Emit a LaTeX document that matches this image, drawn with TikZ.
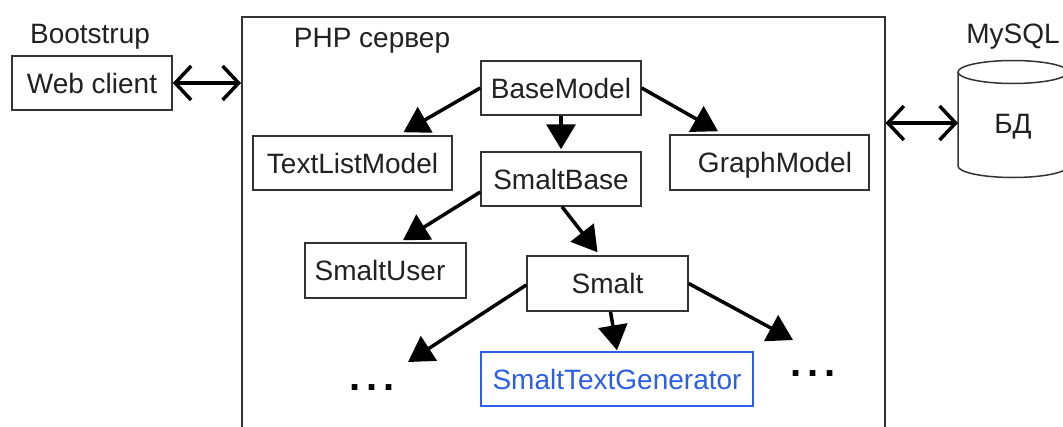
\documentclass[tikz,border=0pt]{standalone}
\usepackage{fontspec}
\setmainfont{Liberation Sans}
\usetikzlibrary{arrows.meta,calc}
\definecolor{txt}{HTML}{212121}
\definecolor{bord}{HTML}{333333}
\definecolor{stgblue}{RGB}{45,95,230}
\begin{document}
\begin{tikzpicture}[x=1pt,y=-1pt,
  font=\fontsize{28}{32}\selectfont, text=txt,
  lbl/.style={inner sep=0pt, text height=20pt, text depth=0pt},
  box/.style={draw=bord, line width=1.5pt, fill=white, inner sep=0pt,
              text height=20pt, text depth=0pt},
  arr/.style={line width=3.5pt, draw=black, -{Triangle[length=25pt,width=29pt]}},
  dbl/.style={line width=3.5pt, draw=black,
              {Straight Barb[length=16pt,width=34pt]}-{Straight Barb[length=16pt,width=34pt]}},
  dots/.style={inner sep=0pt, font=\fontsize{40}{42}\selectfont\bfseries, text=black}
]
\useasboundingbox (0,0) rectangle (1063,426);
\clip (0,0) rectangle (1063,426);

% server container
\node[draw=bord, line width=1.5pt, minimum width=643pt, minimum height=444pt,
      anchor=north west, inner sep=0pt] (server) at (241,16) {};
\node[lbl] (php) at (372,37) {PHP сервер};

% client side
\node[lbl] (boot) at (90,33) {Bootstrup};
\node[box, minimum width=160pt, minimum height=54pt] (web) at (92,83) {Web client};

% database
\node[lbl] (mysql) at (1013,33) {MySQL};
\draw[draw=bord, line width=1.5pt, fill=white]
  (958,72) -- (958,166) arc[start angle=180, end angle=0, x radius=55, y radius=11.5]
  -- (1068,72);
\draw[draw=bord, line width=1.5pt] (1013,72) ellipse[x radius=55, y radius=11.5];
\node[lbl] (db) at (1013,123) {БД};

% class boxes
\node[box, minimum width=160pt, minimum height=54pt] (base) at (561,88) {BaseModel};
\node[box, minimum width=160pt, minimum height=54pt] (sbase) at (561,179) {SmaltBase};
\node[box, minimum width=199pt, minimum height=54pt] (tl) at (352.5,163) {TextListModel};
\node[box, minimum width=199pt, minimum height=55pt] (graph) at (769.5,162.5) {\hspace*{11pt}GraphModel};
\node[box, minimum width=161pt, minimum height=55pt] (su) at (385.5,270.5) {SmaltUser\hspace*{11pt}};
\node[box, minimum width=161pt, minimum height=55pt] (smalt) at (607.5,283.5) {Smalt};
\node[box, draw=stgblue, text=stgblue, minimum width=272pt, minimum height=54pt] (stg) at (617,379) {SmaltTextGenerator};

\node[dots, anchor=base] (ldots) at (372,390) {.\kern6pt.\kern6pt.};
\node[dots, anchor=base] (rdots) at (813,376) {.\kern6pt.\kern6pt.};

% double arrows
\draw[dbl] (web.east) -- (web.east -| server.west);
\draw[dbl] (server.east |- db.center) -- ($(db.center)+(-55,0)$);

% inheritance arrows
\draw[arr] (base.west) -- ($(tl.north)+(51,-3)$);
\draw[arr] (base.south) -- ($(sbase.north)+(0,-2)$);
\draw[arr] (base.east) -- ($(graph.north)+(-51.5,-3)$);
\draw[arr] ($(sbase.west)+(0,13)$) -- ($(su.north)+(17.5,-2)$);
\draw[arr] ($(sbase.south)+(1,0)$) -- ($(smalt.north)+(-10,-3)$);
\draw[arr] ($(smalt.west)+(0,1.5)$) -- ($(ldots.base)+(36,-28)$);
\draw[arr] ($(smalt.south)+(3,0)$) -- ($(stg.north)+(0,-1)$);
\draw[arr] (smalt.east) -- ($(rdots.base)+(-20,-36)$);
\end{tikzpicture}
\end{document}
